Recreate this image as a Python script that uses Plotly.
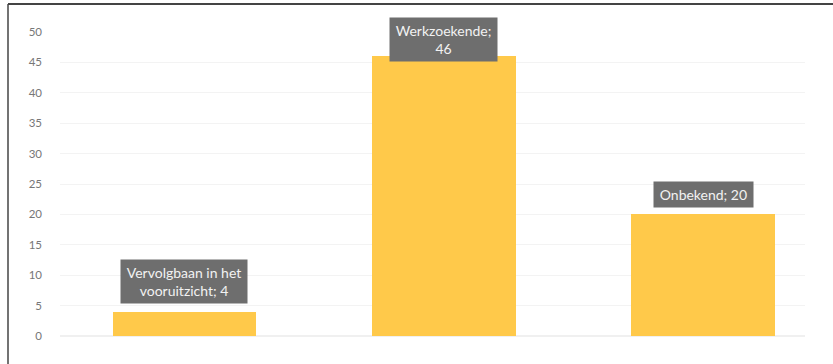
import plotly.graph_objects as go

categories = ["Vervolgbaan in het vooruitzicht", "Werkzoekende", "Onbekend"]
values = [4, 46, 20]
label_texts = ["Vervolgbaan in het<br>vooruitzicht; 4", "Werkzoekende;<br>46", "Onbekend; 20"]
y_ticks = [0, 5, 10, 15, 20, 25, 30, 35, 40, 45, 50]

W, H = 833, 364
L, R, T, B = 60, 28, 31.5, 28
label_shifts = [8, -6, 6]

fig = go.Figure()
fig.add_trace(go.Bar(
    x=list(range(len(categories))), y=values,
    width=0.555, marker=dict(color="#FFC94A", line=dict(width=0)),
    hoverinfo="skip", showlegend=False,
))

for i, (v, t) in enumerate(zip(values, label_texts)):
    fig.add_annotation(
        x=i, y=v, xref="x", yref="y", text="\u2009" + t.replace("<br>", "\u2009<br>\u2009") + "\u2009",
        showarrow=False,
        yanchor="bottom", yshift=label_shifts[i],
        bgcolor="#6E6E6E", borderpad=4,
        font=dict(family="Lato", size=14, color="#F2F2F2"),
    )

pw = W - L - R
ph = H - T - B
x0 = (8 - L) / pw
xr = (W - L) / pw
y1 = 1 + (T - 3.5) / ph
fig.add_shape(type="line", xref="paper", yref="paper", x0=x0, x1=x0, y0=-1, y1=y1,
              line=dict(color="#444444", width=1.5))
fig.add_shape(type="line", xref="paper", yref="paper", x0=x0, x1=xr, y0=y1, y1=y1,
              line=dict(color="#444444", width=2))

fig.update_layout(
    width=W, height=H,
    margin=dict(l=L, r=R, t=T, b=B, pad=0),
    paper_bgcolor="white", plot_bgcolor="white",
    bargap=0,
    xaxis=dict(range=[-0.48, 2.393], showticklabels=False, showgrid=False,
               zeroline=False, showline=False, ticks=""),
    yaxis=dict(range=[0, 50], tickvals=y_ticks, showgrid=True, gridcolor="#F3F3F3",
               gridwidth=1, zeroline=True, zerolinecolor="#F0F0F0", showline=False,
               ticks="", ticklabelstandoff=17,
               tickfont=dict(family="Lato", size=11.5, color="#777777")),
    font=dict(family="Lato"),
)

fig.write_html("out.html")
